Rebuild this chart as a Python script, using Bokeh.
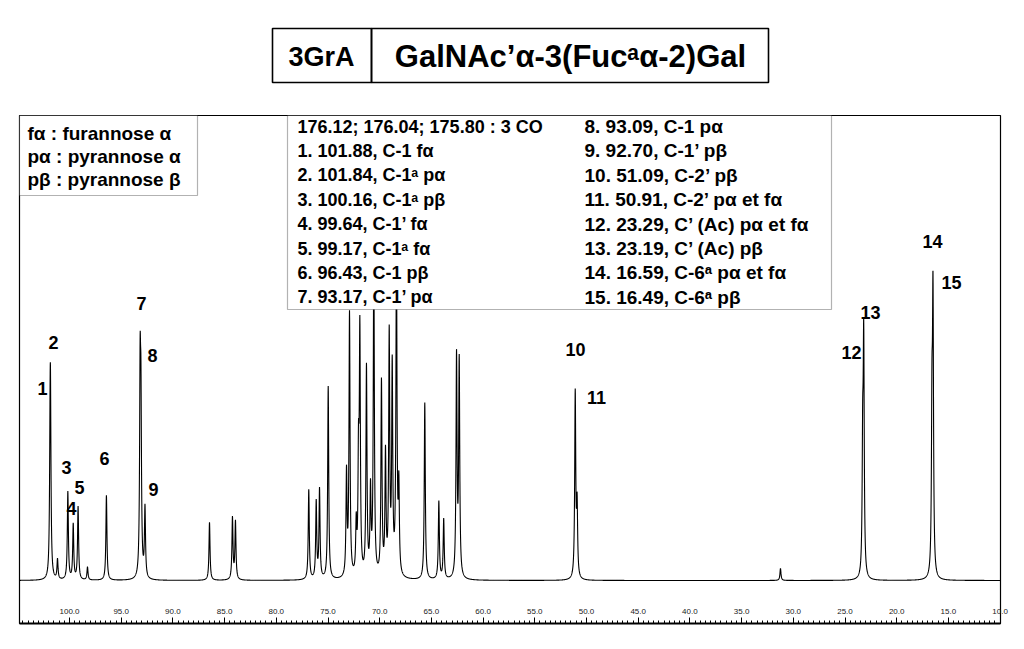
import numpy as np
from bokeh.plotting import figure
from bokeh.layouts import column
from bokeh.models import Range1d, FixedTicker, PrintfTickFormatter, BoxAnnotation, ColumnDataSource
from bokeh.core.properties import value
from bokeh.embed import file_html
from bokeh.resources import INLINE

# ---------------- data ----------------
TITLE_CODE = "3GrA"
TITLE_NAME = "GalNAc\u2019\u03b1-3(Fuc\u1d43\u03b1-2)Gal"

# assigned signals (ppm) and heights (arbitrary intensity units)
LABELED_PPM = [101.88, 101.84, 100.16, 99.64, 99.17, 96.43, 93.17, 93.09, 92.70,
               51.09, 50.91, 23.29, 23.19, 16.59, 16.49]
LABELED_HEIGHT = [90, 150, 88, 55, 73, 85, 190, 150, 70,
                  185, 70, 120, 230, 150, 270]
PEAK_LABELS = ["1", "2", "3", "4", "5", "6", "7", "8", "9",
               "10", "11", "12", "13", "14", "15"]

# other (unassigned) signals
OTHER_PPM = [101.16, 98.26, 86.46, 84.24, 83.95,
             76.86, 76.14, 75.82, 74.98, 73.21, 72.92, 72.27, 72.05, 71.92,
             71.28, 70.89, 70.57, 69.83, 69.44, 69.08, 68.79, 68.38, 68.15,
             65.64, 64.28, 63.81, 62.57, 62.31, 31.24]
OTHER_HEIGHT = [20, 13, 58, 62, 58,
                90, 77, 89, 193, 103, 263, 50, 110, 240,
                209, 83, 330, 194, 120, 239, 206, 330, 85,
                177, 78, 60, 220, 215, 12]

MAJOR_TICKS = [100, 95, 90, 85, 80, 75, 70, 65, 60, 55, 50, 45, 40, 35, 30, 25, 20, 15, 10]

LEGEND_LINES = ["f\u03b1 : furannose \u03b1",
                "p\u03b1 : pyrannose \u03b1",
                "p\u03b2 : pyrannose \u03b2"]
BOX_LEFT_COL = ["176.12; 176.04; 175.80 : 3 CO",
                "1. 101.88, C-1 f\u03b1",
                "2. 101.84, C-1\u1d43 p\u03b1",
                "3. 100.16, C-1\u1d43 p\u03b2",
                "4. 99.64, C-1\u2019 f\u03b1",
                "5. 99.17, C-1\u1d43 f\u03b1",
                "6. 96.43, C-1 p\u03b2",
                "7. 93.17, C-1\u2019 p\u03b1"]
BOX_RIGHT_COL = [" 8. 93.09, C-1 p\u03b1",
                 " 9. 92.70, C-1\u2019 p\u03b2",
                 "10. 51.09, C-2\u2019 p\u03b2",
                 "11. 50.91, C-2\u2019 p\u03b1 et f\u03b1",
                 "12. 23.29, C\u2019 (Ac) p\u03b1 et f\u03b1",
                 "13. 23.19, C\u2019 (Ac) p\u03b2",
                 "14. 16.59, C-6\u1d43 p\u03b1 et f\u03b1",
                 "15. 16.49, C-6\u1d43 p\u03b2"]

# ---------------- helpers for annotation placement ----------------
def px_to_ppm(x):
    return 100 - (x - 69) / 10.34

def py_to_val(y):
    return 580 - y

FONT = value("Liberation Sans")
HWHM = 0.06

# ---------------- title figure ----------------
# (column layout aligns its frame with the spectrum frame: 19..1000 px)
t = figure(width=1016, height=114, x_range=Range1d(19, 1000), y_range=Range1d(114, 0),
           toolbar_location=None, output_backend="svg", min_border=0,
           min_border_left=19, min_border_right=16,
           x_axis_type=None, y_axis_type=None, outline_line_color=None)
t.quad(left=[272, 371], right=[371, 768], top=28, bottom=82,
       fill_color=None, line_color="black", line_width=1.6)
t.text(x=[321], y=[56], text=[TITLE_CODE],
       text_font=FONT, text_font_style="bold", text_font_size="27px",
       text_align="center", text_baseline="middle", text_color="black")
t.text(x=[570], y=[56], text=[TITLE_NAME],
       text_font=FONT, text_font_style="bold", text_font_size="31px",
       text_align="center", text_baseline="middle", text_color="black")

# ---------------- spectrum figure ----------------
p = figure(width=1016, height=527,
           x_range=Range1d(px_to_ppm(19), px_to_ppm(1000)),
           y_range=Range1d(py_to_val(623), py_to_val(115)),
           toolbar_location=None, output_backend="svg",
           min_border_left=19, min_border_right=16, min_border_top=1, min_border_bottom=18,
           y_axis_type=None)
p.xgrid.visible = False
p.outline_line_color = "black"
p.outline_line_width = 1.2

all_ppm = np.array(LABELED_PPM + OTHER_PPM)
all_h = np.array(LABELED_HEIGHT + OTHER_HEIGHT, dtype=float)
grid = np.arange(9.9, 105.0, 0.01)
spec = (all_h[:, None] * HWHM ** 2 / ((grid[None, :] - all_ppm[:, None]) ** 2 + HWHM ** 2)).sum(axis=0)
p.line(grid, spec, line_color="black", line_width=1.1)

ax = p.xaxis[0]
minor = [round(v, 1) for v in np.arange(10.0, 105.0, 0.5)]
ax.ticker = FixedTicker(ticks=MAJOR_TICKS, minor_ticks=minor)
ax.formatter = PrintfTickFormatter(format="%.1f")
ax.major_tick_in = 6
ax.major_tick_out = 0
ax.minor_tick_in = 3
ax.minor_tick_out = 0
ax.major_label_standoff = -15
ax.major_label_text_font_size = "8px"
ax.major_label_text_font = "Liberation Sans"
ax.major_label_text_color = "#222222"
ax.axis_line_width = 2

# peak number labels (positions)
label_px = [42, 53, 66, 71, 79, 104, 141, 152, 153, 575, 596, 851, 870, 932, 951]
label_py = [388, 342, 467, 508, 487, 458, 303, 355, 489, 349, 397, 352, 312, 241, 282]
p.text(x=[px_to_ppm(v) for v in label_px], y=[py_to_val(v) for v in label_py],
       text=PEAK_LABELS, text_font=FONT, text_font_style="bold", text_font_size="18px",
       text_align="center", text_baseline="middle", text_color="black")

# legend boxes
p.add_layout(BoxAnnotation(left=px_to_ppm(19), right=px_to_ppm(197),
                           top=py_to_val(115), bottom=py_to_val(195),
                           fill_color="white", fill_alpha=1.0, line_color="black", line_width=1.2))
p.add_layout(BoxAnnotation(left=px_to_ppm(287), right=px_to_ppm(831),
                           top=py_to_val(115), bottom=py_to_val(309),
                           fill_color="white", fill_alpha=1.0, line_color="black", line_width=1.2))

leg_src = ColumnDataSource(dict(
    x=[px_to_ppm(27)] * len(LEGEND_LINES),
    y=[py_to_val(133 + 23 * i) for i in range(len(LEGEND_LINES))],
    text=LEGEND_LINES))
p.text(x="x", y="y", text="text", source=leg_src, level="overlay",
       text_font=FONT, text_font_style="bold", text_font_size="19px",
       text_align="left", text_baseline="middle", text_color="black")

left_src = ColumnDataSource(dict(
    x=[px_to_ppm(297)] * len(BOX_LEFT_COL),
    y=[py_to_val(126 + 24.4 * i) for i in range(len(BOX_LEFT_COL))],
    text=BOX_LEFT_COL))
p.text(x="x", y="y", text="text", source=left_src, level="overlay",
       text_font=FONT, text_font_style="bold", text_font_size="18px",
       text_align="left", text_baseline="middle", text_color="black")

right_src = ColumnDataSource(dict(
    x=[px_to_ppm(584)] * len(BOX_RIGHT_COL),
    y=[py_to_val(126 + 24.4 * i) for i in range(len(BOX_RIGHT_COL))],
    text=BOX_RIGHT_COL))
p.text(x="x", y="y", text="text", source=right_src, level="overlay",
       text_font=FONT, text_font_style="bold", text_font_size="19px",
       text_align="left", text_baseline="middle", text_color="black")

layout = column(t, p)
open("out.html", "w").write(file_html(layout, INLINE))
